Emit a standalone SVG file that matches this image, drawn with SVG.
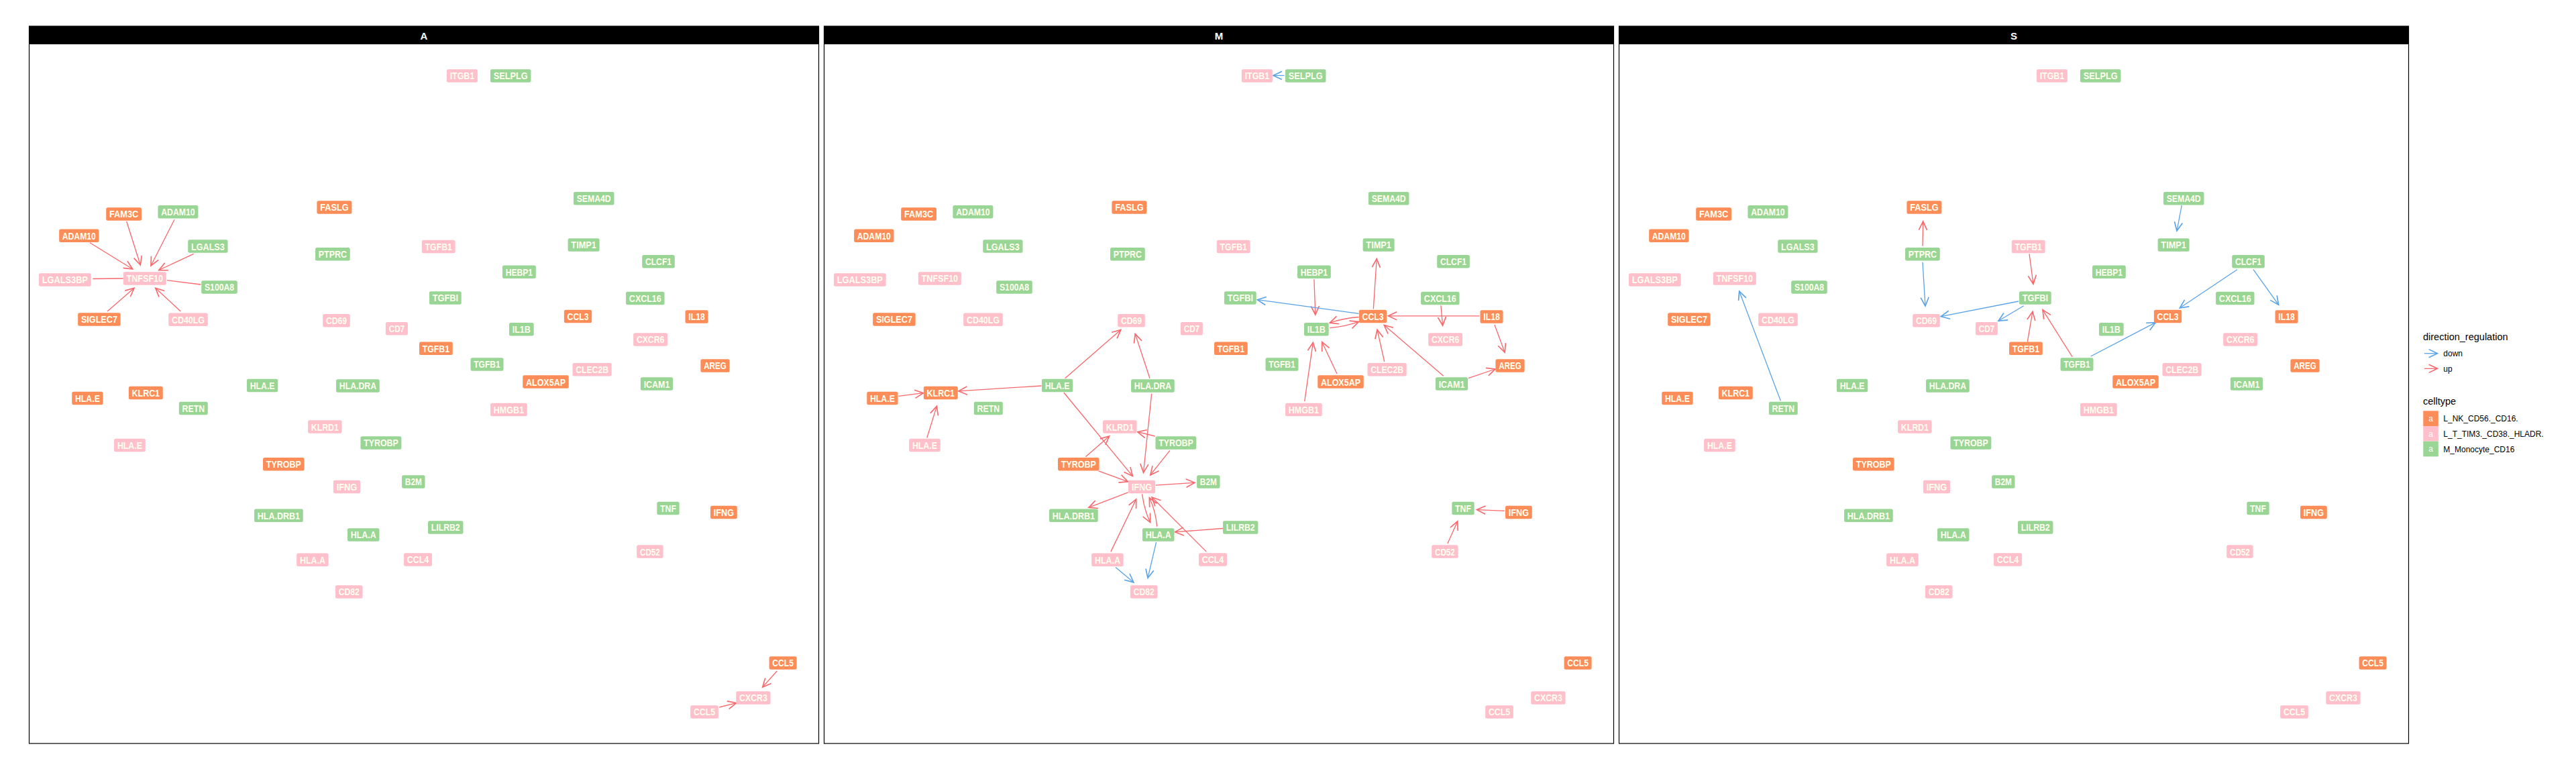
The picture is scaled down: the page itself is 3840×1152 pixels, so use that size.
<svg xmlns="http://www.w3.org/2000/svg" width="3840" height="1152" viewBox="0 0 3840 1152">
<style>
.bg{fill:#fff}
.frame{fill:none;stroke:#000;stroke-width:1.2}
.strip{fill:#000}
.stripT{font-family:"Liberation Sans Narrow","Liberation Sans",Arial,sans-serif;font-weight:bold;font-size:15px;fill:#fff;text-anchor:middle}
.n text{font-family:"Liberation Sans Narrow","Liberation Sans",Arial,sans-serif;font-weight:bold;font-size:15px;fill:#FFFFF0;text-anchor:middle}
.o rect{fill:#FC8D59}
.p rect{fill:#FFC0CB}
.g rect{fill:#99D594}
.u,.d,.l{fill:none;stroke-width:1.3}
.u{stroke:#F8676B;marker-end:url(#ah-up)}
.d{stroke:#5AA2E6;marker-end:url(#ah-down)}
.l{stroke:#F8676B}
.lgT{font-family:"Liberation Sans",Arial,sans-serif;font-size:14.5px;fill:#000}
.lgI{font-family:"Liberation Sans",Arial,sans-serif;font-size:12px;fill:#000}
.lgA{font-family:"Liberation Sans",Arial,sans-serif;font-size:12px;fill:#fff;text-anchor:middle}
</style>
<defs>
<marker id="ah-up" markerUnits="userSpaceOnUse" markerWidth="14" markerHeight="14" viewBox="0 0 12 12" refX="11.5" refY="6" orient="auto" overflow="visible"><path d="M0.5,0.8 L11.5,6 L0.5,11.2" fill="none" stroke="#F8676B" stroke-width="1.4"/></marker>
<marker id="ah-down" markerUnits="userSpaceOnUse" markerWidth="14" markerHeight="14" viewBox="0 0 12 12" refX="11.5" refY="6" orient="auto" overflow="visible"><path d="M0.5,0.8 L11.5,6 L0.5,11.2" fill="none" stroke="#5AA2E6" stroke-width="1.4"/></marker>
</defs>
<rect class="bg" x="0" y="0" width="3840" height="1152"/>

<g id="panels">
<rect class="strip" x="43.5" y="39" width="1177" height="27"/>
<rect class="frame" x="43.5" y="39" width="1177" height="1069"/>
<text class="stripT" x="632" y="59">A</text>
<rect class="strip" x="1228.5" y="39" width="1177" height="27"/>
<rect class="frame" x="1228.5" y="39" width="1177" height="1069"/>
<text class="stripT" x="1817" y="59">M</text>
<rect class="strip" x="2413.5" y="39" width="1177" height="27"/>
<rect class="frame" x="2413.5" y="39" width="1177" height="1069"/>
<text class="stripT" x="3002" y="59">S</text>
</g>

<g id="edges">
<g id="edges-A" transform="translate(43.5,0)">
<line class="u" x1="145.2" y1="330" x2="165.8" y2="395"/>
<line class="u" x1="216.5" y1="327.3" x2="181.5" y2="396"/>
<line class="u" x1="90.5" y1="361.7" x2="154.2" y2="401"/>
<line class="u" x1="245.2" y1="378.3" x2="193.2" y2="402.7"/>
<line class="l" x1="94.8" y1="415.5" x2="140" y2="415"/>
<line class="l" x1="205.5" y1="417.7" x2="255.8" y2="424"/>
<line class="u" x1="116.5" y1="464" x2="156.5" y2="429.3"/>
<line class="u" x1="225.8" y1="464" x2="188.2" y2="429.3"/>
<line class="u" x1="1114.8" y1="1000" x2="1093.2" y2="1024"/>
<line class="u" x1="1028.8" y1="1054" x2="1054.2" y2="1047.7"/>
</g>
<g id="edges-M" transform="translate(1228.5,0)">
<line class="d" x1="686" y1="112.5" x2="669.5" y2="112.5"/>
<line class="u" x1="730.4" y1="416.3" x2="732.3" y2="469"/>
<line class="d" x1="797" y1="467.3" x2="645.8" y2="446.7"/>
<line class="u" x1="818.8" y1="460.4" x2="823.7" y2="385.7"/>
<path class="u" d="M797,472.5 Q775,474 753.7,481.1"/>
<path class="u" d="M753.7,488.7 Q776,487 797,479.4"/>
<line class="u" x1="976.8" y1="470.8" x2="841" y2="470.8"/>
<line class="u" x1="919.4" y1="455.3" x2="922.1" y2="485.2"/>
<line class="u" x1="999.4" y1="483.9" x2="1014.7" y2="525.2"/>
<line class="u" x1="835.2" y1="539" x2="824.5" y2="491.4"/>
<line class="u" x1="923.2" y1="560.3" x2="834.8" y2="484.5"/>
<line class="u" x1="960.4" y1="563.7" x2="1000.5" y2="550"/>
<line class="u" x1="716.2" y1="598.2" x2="728.8" y2="510.4"/>
<line class="u" x1="764.5" y1="557" x2="742.2" y2="509.7"/>
<line class="u" x1="359.2" y1="563.7" x2="442.3" y2="491.4"/>
<line class="u" x1="485.5" y1="563.7" x2="463.7" y2="497.6"/>
<line class="u" x1="324" y1="575" x2="200.4" y2="582.9"/>
<line class="u" x1="110.9" y1="590.4" x2="148" y2="585.7"/>
<line class="u" x1="153.3" y1="652.5" x2="167.9" y2="605.4"/>
<line class="u" x1="357.3" y1="585" x2="459.9" y2="709.6"/>
<line class="u" x1="488.2" y1="586.8" x2="476" y2="704.3"/>
<line class="u" x1="493.2" y1="650" x2="467.2" y2="643.6"/>
<line class="u" x1="389.9" y1="680.7" x2="425.1" y2="650"/>
<line class="u" x1="515.4" y1="671.4" x2="486.3" y2="707.9"/>
<line class="u" x1="409" y1="701.8" x2="453" y2="717.9"/>
<line class="u" x1="494.3" y1="723.2" x2="552.5" y2="719.3"/>
<line class="u" x1="453" y1="733.9" x2="394.4" y2="756.4"/>
<path class="u" d="M474.1,736.4 Q477,760 486.3,778.6"/>
<path class="u" d="M496.2,784.6 Q494,760 484.8,741.8"/>
<line class="u" x1="427.4" y1="822.1" x2="465.2" y2="743.9"/>
<line class="u" x1="569.7" y1="822.1" x2="488.6" y2="741"/>
<line class="u" x1="594.6" y1="787.5" x2="523" y2="792.9"/>
<line class="d" x1="495.1" y1="807.9" x2="482.5" y2="861.4"/>
<line class="d" x1="434.6" y1="845.4" x2="461.4" y2="867.9"/>
<line class="u" x1="1014.3" y1="761.4" x2="973" y2="759.6"/>
<line class="u" x1="929.4" y1="810" x2="944.3" y2="776.8"/>
</g>
<g id="edges-S" transform="translate(2413.5,0)">
<line class="u" x1="452.5" y1="366.7" x2="453.2" y2="330"/>
<line class="d" x1="452.5" y1="390.7" x2="456.5" y2="456"/>
<line class="u" x1="611.5" y1="378.3" x2="617.5" y2="423.3"/>
<line class="d" x1="595.5" y1="449" x2="479.8" y2="471.7"/>
<line class="d" x1="603.2" y1="455.7" x2="565.5" y2="478.3"/>
<line class="u" x1="608.8" y1="509.3" x2="616.5" y2="464.3"/>
<line class="d" x1="240.8" y1="597.3" x2="179.2" y2="434"/>
<line class="u" x1="675.5" y1="531.7" x2="631.5" y2="461.7"/>
<line class="d" x1="703.2" y1="531" x2="799.8" y2="480.7"/>
<line class="d" x1="921.5" y1="401.7" x2="835.8" y2="459"/>
<line class="d" x1="945.5" y1="401.7" x2="983.2" y2="454.3"/>
<line class="d" x1="838.8" y1="306" x2="831.5" y2="344"/>
</g>
</g>

<g id="nodes-A" transform="translate(43.5,0)">
<g id="A-ITGB1" class="n p" transform="translate(645.4,113)"><rect x="-23" y="-9.75" width="46" height="19.5" rx="2.5"/><text y="5.4" textLength="36.5" lengthAdjust="spacingAndGlyphs">ITGB1</text></g>
<g id="A-SELPLG" class="n g" transform="translate(717.7,113)"><rect x="-30.25" y="-9.75" width="60.5" height="19.5" rx="2.5"/><text y="5.4" textLength="51" lengthAdjust="spacingAndGlyphs">SELPLG</text></g>
<g id="A-FAM3C" class="n o" transform="translate(141.1,319)"><rect x="-26.4" y="-9.75" width="52.8" height="19.5" rx="2.5"/><text y="5.4" textLength="43.3" lengthAdjust="spacingAndGlyphs">FAM3C</text></g>
<g id="A-ADAM10-g" class="n g" transform="translate(221.9,315.8)"><rect x="-30" y="-9.75" width="60" height="19.5" rx="2.5"/><text y="5.4" textLength="50.5" lengthAdjust="spacingAndGlyphs">ADAM10</text></g>
<g id="A-ADAM10-o" class="n o" transform="translate(74.3,351.3)"><rect x="-29.65" y="-9.75" width="59.3" height="19.5" rx="2.5"/><text y="5.4" textLength="50" lengthAdjust="spacingAndGlyphs">ADAM10</text></g>
<g id="A-LGALS3" class="n g" transform="translate(266.4,367.1)"><rect x="-29.65" y="-9.75" width="59.3" height="19.5" rx="2.5"/><text y="5.4" textLength="49.8" lengthAdjust="spacingAndGlyphs">LGALS3</text></g>
<g id="A-FASLG" class="n o" transform="translate(454.9,308.9)"><rect x="-26" y="-9.75" width="52" height="19.5" rx="2.5"/><text y="5.4" textLength="42.5" lengthAdjust="spacingAndGlyphs">FASLG</text></g>
<g id="A-PTPRC" class="n g" transform="translate(452.4,378.8)"><rect x="-25.85" y="-9.75" width="51.7" height="19.5" rx="2.5"/><text y="5.4" textLength="42.2" lengthAdjust="spacingAndGlyphs">PTPRC</text></g>
<g id="A-LGALS3BP" class="n p" transform="translate(53.3,416.9)"><rect x="-38.85" y="-9.75" width="77.7" height="19.5" rx="2.5"/><text y="5.4" textLength="68.2" lengthAdjust="spacingAndGlyphs">LGALS3BP</text></g>
<g id="A-TNFSF10" class="n p" transform="translate(172.3,415)"><rect x="-32" y="-9.75" width="64" height="19.5" rx="2.5"/><text y="5.4" textLength="54.5" lengthAdjust="spacingAndGlyphs">TNFSF10</text></g>
<g id="A-S100A8" class="n g" transform="translate(283.5,428)"><rect x="-26.8" y="-9.75" width="53.6" height="19.5" rx="2.5"/><text y="5.4" textLength="44.1" lengthAdjust="spacingAndGlyphs">S100A8</text></g>
<g id="A-SIGLEC7" class="n o" transform="translate(104.4,475.9)"><rect x="-31.75" y="-9.75" width="63.5" height="19.5" rx="2.5"/><text y="5.4" textLength="54" lengthAdjust="spacingAndGlyphs">SIGLEC7</text></g>
<g id="A-CD40LG" class="n p" transform="translate(237,476.3)"><rect x="-29.3" y="-9.75" width="58.6" height="19.5" rx="2.5"/><text y="5.4" textLength="49.1" lengthAdjust="spacingAndGlyphs">CD40LG</text></g>
<g id="A-CD69" class="n p" transform="translate(458,477.7)"><rect x="-20.3" y="-9.75" width="40.6" height="19.5" rx="2.5"/><text y="5.4" textLength="31.1" lengthAdjust="spacingAndGlyphs">CD69</text></g>
<g id="A-CD7" class="n p" transform="translate(547.9,489.7)"><rect x="-16.5" y="-9.75" width="33" height="19.5" rx="2.5"/><text y="5.4" textLength="23.5" lengthAdjust="spacingAndGlyphs">CD7</text></g>
<g id="A-SEMA4D" class="n g" transform="translate(841.7,295.7)"><rect x="-30.25" y="-9.75" width="60.5" height="19.5" rx="2.5"/><text y="5.4" textLength="51" lengthAdjust="spacingAndGlyphs">SEMA4D</text></g>
<g id="A-TGFB1-p" class="n p" transform="translate(610.2,367.6)"><rect x="-24.9" y="-9.75" width="49.8" height="19.5" rx="2.5"/><text y="5.4" textLength="40.3" lengthAdjust="spacingAndGlyphs">TGFB1</text></g>
<g id="A-TIMP1" class="n g" transform="translate(826.6,364.9)"><rect x="-23.5" y="-9.75" width="47" height="19.5" rx="2.5"/><text y="5.4" textLength="37.5" lengthAdjust="spacingAndGlyphs">TIMP1</text></g>
<g id="A-CLCF1" class="n g" transform="translate(938,389.7)"><rect x="-24.3" y="-9.75" width="48.6" height="19.5" rx="2.5"/><text y="5.4" textLength="39.1" lengthAdjust="spacingAndGlyphs">CLCF1</text></g>
<g id="A-HEBP1" class="n g" transform="translate(730.4,405.2)"><rect x="-24.9" y="-9.75" width="49.8" height="19.5" rx="2.5"/><text y="5.4" textLength="40.3" lengthAdjust="spacingAndGlyphs">HEBP1</text></g>
<g id="A-TGFBI" class="n g" transform="translate(620.3,443.9)"><rect x="-23.9" y="-9.75" width="47.8" height="19.5" rx="2.5"/><text y="5.4" textLength="38.3" lengthAdjust="spacingAndGlyphs">TGFBI</text></g>
<g id="A-CXCL16" class="n g" transform="translate(918.3,444.4)"><rect x="-28.7" y="-9.75" width="57.4" height="19.5" rx="2.5"/><text y="5.4" textLength="47.9" lengthAdjust="spacingAndGlyphs">CXCL16</text></g>
<g id="A-CCL3" class="n o" transform="translate(818,471.6)"><rect x="-20.65" y="-9.75" width="41.3" height="19.5" rx="2.5"/><text y="5.4" textLength="31.8" lengthAdjust="spacingAndGlyphs">CCL3</text></g>
<g id="A-IL18" class="n o" transform="translate(995,472)"><rect x="-17" y="-9.75" width="34" height="19.5" rx="2.5"/><text y="5.4" textLength="24.5" lengthAdjust="spacingAndGlyphs">IL18</text></g>
<g id="A-IL1B" class="n g" transform="translate(733.8,490.7)"><rect x="-18.35" y="-9.75" width="36.7" height="19.5" rx="2.5"/><text y="5.4" textLength="27.2" lengthAdjust="spacingAndGlyphs">IL1B</text></g>
<g id="A-CXCR6" class="n p" transform="translate(926.1,506)"><rect x="-25.45" y="-9.75" width="50.9" height="19.5" rx="2.5"/><text y="5.4" textLength="41.4" lengthAdjust="spacingAndGlyphs">CXCR6</text></g>
<g id="A-TGFB1-o" class="n o" transform="translate(606.4,519.3)"><rect x="-24.9" y="-9.75" width="49.8" height="19.5" rx="2.5"/><text y="5.4" textLength="40.3" lengthAdjust="spacingAndGlyphs">TGFB1</text></g>
<g id="A-TGFB1-g" class="n g" transform="translate(682.5,543)"><rect x="-24.5" y="-9.75" width="49" height="19.5" rx="2.5"/><text y="5.4" textLength="39.5" lengthAdjust="spacingAndGlyphs">TGFB1</text></g>
<g id="A-CLEC2B" class="n p" transform="translate(839.1,550.8)"><rect x="-29.1" y="-9.75" width="58.2" height="19.5" rx="2.5"/><text y="5.4" textLength="48.7" lengthAdjust="spacingAndGlyphs">CLEC2B</text></g>
<g id="A-AREG" class="n o" transform="translate(1022.5,545)"><rect x="-21.6" y="-9.75" width="43.2" height="19.5" rx="2.5"/><text y="5.4" textLength="33.7" lengthAdjust="spacingAndGlyphs">AREG</text></g>
<g id="A-ALOX5AP" class="n o" transform="translate(770,569.1)"><rect x="-34.25" y="-9.75" width="68.5" height="19.5" rx="2.5"/><text y="5.4" textLength="59" lengthAdjust="spacingAndGlyphs">ALOX5AP</text></g>
<g id="A-ICAM1" class="n g" transform="translate(935.5,572.1)"><rect x="-24.1" y="-9.75" width="48.2" height="19.5" rx="2.5"/><text y="5.4" textLength="38.7" lengthAdjust="spacingAndGlyphs">ICAM1</text></g>
<g id="A-HMGB1" class="n p" transform="translate(714.9,610.5)"><rect x="-27.35" y="-9.75" width="54.7" height="19.5" rx="2.5"/><text y="5.4" textLength="45.2" lengthAdjust="spacingAndGlyphs">HMGB1</text></g>
<g id="A-HLA-E-g" class="n g" transform="translate(347.6,574.5)"><rect x="-23.15" y="-9.75" width="46.3" height="19.5" rx="2.5"/><text y="5.4" textLength="36.8" lengthAdjust="spacingAndGlyphs">HLA.E</text></g>
<g id="A-HLA-DRA" class="n g" transform="translate(489.9,575)"><rect x="-32.35" y="-9.75" width="64.7" height="19.5" rx="2.5"/><text y="5.4" textLength="55.2" lengthAdjust="spacingAndGlyphs">HLA.DRA</text></g>
<g id="A-HLA-E-o" class="n o" transform="translate(86.9,593.4)"><rect x="-23.15" y="-9.75" width="46.3" height="19.5" rx="2.5"/><text y="5.4" textLength="36.8" lengthAdjust="spacingAndGlyphs">HLA.E</text></g>
<g id="A-KLRC1" class="n o" transform="translate(173.8,585.5)"><rect x="-25.45" y="-9.75" width="50.9" height="19.5" rx="2.5"/><text y="5.4" textLength="41.4" lengthAdjust="spacingAndGlyphs">KLRC1</text></g>
<g id="A-RETN" class="n g" transform="translate(244.8,608.4)"><rect x="-21.45" y="-9.75" width="42.9" height="19.5" rx="2.5"/><text y="5.4" textLength="33.4" lengthAdjust="spacingAndGlyphs">RETN</text></g>
<g id="A-KLRD1" class="n p" transform="translate(440.8,636.1)"><rect x="-25.25" y="-9.75" width="50.5" height="19.5" rx="2.5"/><text y="5.4" textLength="41" lengthAdjust="spacingAndGlyphs">KLRD1</text></g>
<g id="A-TYROBP-g" class="n g" transform="translate(524.4,660)"><rect x="-30.45" y="-9.75" width="60.9" height="19.5" rx="2.5"/><text y="5.4" textLength="51.4" lengthAdjust="spacingAndGlyphs">TYROBP</text></g>
<g id="A-HLA-E-p" class="n p" transform="translate(149.9,663.6)"><rect x="-23.35" y="-9.75" width="46.7" height="19.5" rx="2.5"/><text y="5.4" textLength="37" lengthAdjust="spacingAndGlyphs">HLA.E</text></g>
<g id="A-TYROBP-o" class="n o" transform="translate(379.3,691.8)"><rect x="-30.8" y="-9.75" width="61.6" height="19.5" rx="2.5"/><text y="5.4" textLength="52" lengthAdjust="spacingAndGlyphs">TYROBP</text></g>
<g id="A-IFNG-p" class="n p" transform="translate(473.5,725.5)"><rect x="-20.1" y="-9.75" width="40.2" height="19.5" rx="2.5"/><text y="5.4" textLength="30.7" lengthAdjust="spacingAndGlyphs">IFNG</text></g>
<g id="A-B2M" class="n g" transform="translate(572.8,718)"><rect x="-17.2" y="-9.75" width="34.4" height="19.5" rx="2.5"/><text y="5.4" textLength="24.9" lengthAdjust="spacingAndGlyphs">B2M</text></g>
<g id="A-HLA-DRB1" class="n g" transform="translate(371.9,768.2)"><rect x="-36.35" y="-9.75" width="72.7" height="19.5" rx="2.5"/><text y="5.4" textLength="63.2" lengthAdjust="spacingAndGlyphs">HLA.DRB1</text></g>
<g id="A-HLA-A-g" class="n g" transform="translate(498.2,797)"><rect x="-23.75" y="-9.75" width="47.5" height="19.5" rx="2.5"/><text y="5.4" textLength="38" lengthAdjust="spacingAndGlyphs">HLA.A</text></g>
<g id="A-HLA-A-p" class="n p" transform="translate(422.4,834.3)"><rect x="-23.75" y="-9.75" width="47.5" height="19.5" rx="2.5"/><text y="5.4" textLength="38" lengthAdjust="spacingAndGlyphs">HLA.A</text></g>
<g id="A-CCL4" class="n p" transform="translate(579.5,834)"><rect x="-21" y="-9.75" width="42" height="19.5" rx="2.5"/><text y="5.4" textLength="32.5" lengthAdjust="spacingAndGlyphs">CCL4</text></g>
<g id="A-CD82" class="n p" transform="translate(476.7,882)"><rect x="-20.3" y="-9.75" width="40.6" height="19.5" rx="2.5"/><text y="5.4" textLength="31.1" lengthAdjust="spacingAndGlyphs">CD82</text></g>
<g id="A-TNF" class="n g" transform="translate(952.5,757.5)"><rect x="-16.65" y="-9.75" width="33.3" height="19.5" rx="2.5"/><text y="5.4" textLength="23.8" lengthAdjust="spacingAndGlyphs">TNF</text></g>
<g id="A-IFNG-o" class="n o" transform="translate(1035.4,763.6)"><rect x="-19.9" y="-9.75" width="39.8" height="19.5" rx="2.5"/><text y="5.4" textLength="30.3" lengthAdjust="spacingAndGlyphs">IFNG</text></g>
<g id="A-LILRB2" class="n g" transform="translate(620.7,786)"><rect x="-26.2" y="-9.75" width="52.4" height="19.5" rx="2.5"/><text y="5.4" textLength="42.9" lengthAdjust="spacingAndGlyphs">LILRB2</text></g>
<g id="A-CD52" class="n p" transform="translate(925.4,822.1)"><rect x="-19.7" y="-9.75" width="39.4" height="19.5" rx="2.5"/><text y="5.4" textLength="29.9" lengthAdjust="spacingAndGlyphs">CD52</text></g>
<g id="A-CCL5-o" class="n o" transform="translate(1123.6,987.9)"><rect x="-20.5" y="-9.75" width="41" height="19.5" rx="2.5"/><text y="5.4" textLength="31.5" lengthAdjust="spacingAndGlyphs">CCL5</text></g>
<g id="A-CXCR3" class="n p" transform="translate(1079.4,1040)"><rect x="-25.65" y="-9.75" width="51.3" height="19.5" rx="2.5"/><text y="5.4" textLength="41.8" lengthAdjust="spacingAndGlyphs">CXCR3</text></g>
<g id="A-CCL5-p" class="n p" transform="translate(1006.5,1061)"><rect x="-20.85" y="-9.75" width="41.7" height="19.5" rx="2.5"/><text y="5.4" textLength="32.2" lengthAdjust="spacingAndGlyphs">CCL5</text></g>
</g>

<g id="nodes-M" transform="translate(1228.5,0)">
<g id="M-ITGB1" class="n p" transform="translate(645.4,113)"><rect x="-23" y="-9.75" width="46" height="19.5" rx="2.5"/><text y="5.4" textLength="36.5" lengthAdjust="spacingAndGlyphs">ITGB1</text></g>
<g id="M-SELPLG" class="n g" transform="translate(717.7,113)"><rect x="-30.25" y="-9.75" width="60.5" height="19.5" rx="2.5"/><text y="5.4" textLength="51" lengthAdjust="spacingAndGlyphs">SELPLG</text></g>
<g id="M-FAM3C" class="n o" transform="translate(141.1,319)"><rect x="-26.4" y="-9.75" width="52.8" height="19.5" rx="2.5"/><text y="5.4" textLength="43.3" lengthAdjust="spacingAndGlyphs">FAM3C</text></g>
<g id="M-ADAM10-g" class="n g" transform="translate(221.9,315.8)"><rect x="-30" y="-9.75" width="60" height="19.5" rx="2.5"/><text y="5.4" textLength="50.5" lengthAdjust="spacingAndGlyphs">ADAM10</text></g>
<g id="M-ADAM10-o" class="n o" transform="translate(74.3,351.3)"><rect x="-29.65" y="-9.75" width="59.3" height="19.5" rx="2.5"/><text y="5.4" textLength="50" lengthAdjust="spacingAndGlyphs">ADAM10</text></g>
<g id="M-LGALS3" class="n g" transform="translate(266.4,367.1)"><rect x="-29.65" y="-9.75" width="59.3" height="19.5" rx="2.5"/><text y="5.4" textLength="49.8" lengthAdjust="spacingAndGlyphs">LGALS3</text></g>
<g id="M-FASLG" class="n o" transform="translate(454.9,308.9)"><rect x="-26" y="-9.75" width="52" height="19.5" rx="2.5"/><text y="5.4" textLength="42.5" lengthAdjust="spacingAndGlyphs">FASLG</text></g>
<g id="M-PTPRC" class="n g" transform="translate(452.4,378.8)"><rect x="-25.85" y="-9.75" width="51.7" height="19.5" rx="2.5"/><text y="5.4" textLength="42.2" lengthAdjust="spacingAndGlyphs">PTPRC</text></g>
<g id="M-LGALS3BP" class="n p" transform="translate(53.3,416.9)"><rect x="-38.85" y="-9.75" width="77.7" height="19.5" rx="2.5"/><text y="5.4" textLength="68.2" lengthAdjust="spacingAndGlyphs">LGALS3BP</text></g>
<g id="M-TNFSF10" class="n p" transform="translate(172.3,415)"><rect x="-32" y="-9.75" width="64" height="19.5" rx="2.5"/><text y="5.4" textLength="54.5" lengthAdjust="spacingAndGlyphs">TNFSF10</text></g>
<g id="M-S100A8" class="n g" transform="translate(283.5,428)"><rect x="-26.8" y="-9.75" width="53.6" height="19.5" rx="2.5"/><text y="5.4" textLength="44.1" lengthAdjust="spacingAndGlyphs">S100A8</text></g>
<g id="M-SIGLEC7" class="n o" transform="translate(104.4,475.9)"><rect x="-31.75" y="-9.75" width="63.5" height="19.5" rx="2.5"/><text y="5.4" textLength="54" lengthAdjust="spacingAndGlyphs">SIGLEC7</text></g>
<g id="M-CD40LG" class="n p" transform="translate(237,476.3)"><rect x="-29.3" y="-9.75" width="58.6" height="19.5" rx="2.5"/><text y="5.4" textLength="49.1" lengthAdjust="spacingAndGlyphs">CD40LG</text></g>
<g id="M-CD69" class="n p" transform="translate(458,477.7)"><rect x="-20.3" y="-9.75" width="40.6" height="19.5" rx="2.5"/><text y="5.4" textLength="31.1" lengthAdjust="spacingAndGlyphs">CD69</text></g>
<g id="M-CD7" class="n p" transform="translate(547.9,489.7)"><rect x="-16.5" y="-9.75" width="33" height="19.5" rx="2.5"/><text y="5.4" textLength="23.5" lengthAdjust="spacingAndGlyphs">CD7</text></g>
<g id="M-SEMA4D" class="n g" transform="translate(841.7,295.7)"><rect x="-30.25" y="-9.75" width="60.5" height="19.5" rx="2.5"/><text y="5.4" textLength="51" lengthAdjust="spacingAndGlyphs">SEMA4D</text></g>
<g id="M-TGFB1-p" class="n p" transform="translate(610.2,367.6)"><rect x="-24.9" y="-9.75" width="49.8" height="19.5" rx="2.5"/><text y="5.4" textLength="40.3" lengthAdjust="spacingAndGlyphs">TGFB1</text></g>
<g id="M-TIMP1" class="n g" transform="translate(826.6,364.9)"><rect x="-23.5" y="-9.75" width="47" height="19.5" rx="2.5"/><text y="5.4" textLength="37.5" lengthAdjust="spacingAndGlyphs">TIMP1</text></g>
<g id="M-CLCF1" class="n g" transform="translate(938,389.7)"><rect x="-24.3" y="-9.75" width="48.6" height="19.5" rx="2.5"/><text y="5.4" textLength="39.1" lengthAdjust="spacingAndGlyphs">CLCF1</text></g>
<g id="M-HEBP1" class="n g" transform="translate(730.4,405.2)"><rect x="-24.9" y="-9.75" width="49.8" height="19.5" rx="2.5"/><text y="5.4" textLength="40.3" lengthAdjust="spacingAndGlyphs">HEBP1</text></g>
<g id="M-TGFBI" class="n g" transform="translate(620.3,443.9)"><rect x="-23.9" y="-9.75" width="47.8" height="19.5" rx="2.5"/><text y="5.4" textLength="38.3" lengthAdjust="spacingAndGlyphs">TGFBI</text></g>
<g id="M-CXCL16" class="n g" transform="translate(918.3,444.4)"><rect x="-28.7" y="-9.75" width="57.4" height="19.5" rx="2.5"/><text y="5.4" textLength="47.9" lengthAdjust="spacingAndGlyphs">CXCL16</text></g>
<g id="M-CCL3" class="n o" transform="translate(818,471.6)"><rect x="-20.65" y="-9.75" width="41.3" height="19.5" rx="2.5"/><text y="5.4" textLength="31.8" lengthAdjust="spacingAndGlyphs">CCL3</text></g>
<g id="M-IL18" class="n o" transform="translate(995,472)"><rect x="-17" y="-9.75" width="34" height="19.5" rx="2.5"/><text y="5.4" textLength="24.5" lengthAdjust="spacingAndGlyphs">IL18</text></g>
<g id="M-IL1B" class="n g" transform="translate(733.8,490.7)"><rect x="-18.35" y="-9.75" width="36.7" height="19.5" rx="2.5"/><text y="5.4" textLength="27.2" lengthAdjust="spacingAndGlyphs">IL1B</text></g>
<g id="M-CXCR6" class="n p" transform="translate(926.1,506)"><rect x="-25.45" y="-9.75" width="50.9" height="19.5" rx="2.5"/><text y="5.4" textLength="41.4" lengthAdjust="spacingAndGlyphs">CXCR6</text></g>
<g id="M-TGFB1-o" class="n o" transform="translate(606.4,519.3)"><rect x="-24.9" y="-9.75" width="49.8" height="19.5" rx="2.5"/><text y="5.4" textLength="40.3" lengthAdjust="spacingAndGlyphs">TGFB1</text></g>
<g id="M-TGFB1-g" class="n g" transform="translate(682.5,543)"><rect x="-24.5" y="-9.75" width="49" height="19.5" rx="2.5"/><text y="5.4" textLength="39.5" lengthAdjust="spacingAndGlyphs">TGFB1</text></g>
<g id="M-CLEC2B" class="n p" transform="translate(839.1,550.8)"><rect x="-29.1" y="-9.75" width="58.2" height="19.5" rx="2.5"/><text y="5.4" textLength="48.7" lengthAdjust="spacingAndGlyphs">CLEC2B</text></g>
<g id="M-AREG" class="n o" transform="translate(1022.5,545)"><rect x="-21.6" y="-9.75" width="43.2" height="19.5" rx="2.5"/><text y="5.4" textLength="33.7" lengthAdjust="spacingAndGlyphs">AREG</text></g>
<g id="M-ALOX5AP" class="n o" transform="translate(770,569.1)"><rect x="-34.25" y="-9.75" width="68.5" height="19.5" rx="2.5"/><text y="5.4" textLength="59" lengthAdjust="spacingAndGlyphs">ALOX5AP</text></g>
<g id="M-ICAM1" class="n g" transform="translate(935.5,572.1)"><rect x="-24.1" y="-9.75" width="48.2" height="19.5" rx="2.5"/><text y="5.4" textLength="38.7" lengthAdjust="spacingAndGlyphs">ICAM1</text></g>
<g id="M-HMGB1" class="n p" transform="translate(714.9,610.5)"><rect x="-27.35" y="-9.75" width="54.7" height="19.5" rx="2.5"/><text y="5.4" textLength="45.2" lengthAdjust="spacingAndGlyphs">HMGB1</text></g>
<g id="M-HLA-E-g" class="n g" transform="translate(347.6,574.5)"><rect x="-23.15" y="-9.75" width="46.3" height="19.5" rx="2.5"/><text y="5.4" textLength="36.8" lengthAdjust="spacingAndGlyphs">HLA.E</text></g>
<g id="M-HLA-DRA" class="n g" transform="translate(489.9,575)"><rect x="-32.35" y="-9.75" width="64.7" height="19.5" rx="2.5"/><text y="5.4" textLength="55.2" lengthAdjust="spacingAndGlyphs">HLA.DRA</text></g>
<g id="M-HLA-E-o" class="n o" transform="translate(86.9,593.4)"><rect x="-23.15" y="-9.75" width="46.3" height="19.5" rx="2.5"/><text y="5.4" textLength="36.8" lengthAdjust="spacingAndGlyphs">HLA.E</text></g>
<g id="M-KLRC1" class="n o" transform="translate(173.8,585.5)"><rect x="-25.45" y="-9.75" width="50.9" height="19.5" rx="2.5"/><text y="5.4" textLength="41.4" lengthAdjust="spacingAndGlyphs">KLRC1</text></g>
<g id="M-RETN" class="n g" transform="translate(244.8,608.4)"><rect x="-21.45" y="-9.75" width="42.9" height="19.5" rx="2.5"/><text y="5.4" textLength="33.4" lengthAdjust="spacingAndGlyphs">RETN</text></g>
<g id="M-KLRD1" class="n p" transform="translate(440.8,636.1)"><rect x="-25.25" y="-9.75" width="50.5" height="19.5" rx="2.5"/><text y="5.4" textLength="41" lengthAdjust="spacingAndGlyphs">KLRD1</text></g>
<g id="M-TYROBP-g" class="n g" transform="translate(524.4,660)"><rect x="-30.45" y="-9.75" width="60.9" height="19.5" rx="2.5"/><text y="5.4" textLength="51.4" lengthAdjust="spacingAndGlyphs">TYROBP</text></g>
<g id="M-HLA-E-p" class="n p" transform="translate(149.9,663.6)"><rect x="-23.35" y="-9.75" width="46.7" height="19.5" rx="2.5"/><text y="5.4" textLength="37" lengthAdjust="spacingAndGlyphs">HLA.E</text></g>
<g id="M-TYROBP-o" class="n o" transform="translate(379.3,691.8)"><rect x="-30.8" y="-9.75" width="61.6" height="19.5" rx="2.5"/><text y="5.4" textLength="52" lengthAdjust="spacingAndGlyphs">TYROBP</text></g>
<g id="M-IFNG-p" class="n p" transform="translate(473.5,725.5)"><rect x="-20.1" y="-9.75" width="40.2" height="19.5" rx="2.5"/><text y="5.4" textLength="30.7" lengthAdjust="spacingAndGlyphs">IFNG</text></g>
<g id="M-B2M" class="n g" transform="translate(572.8,718)"><rect x="-17.2" y="-9.75" width="34.4" height="19.5" rx="2.5"/><text y="5.4" textLength="24.9" lengthAdjust="spacingAndGlyphs">B2M</text></g>
<g id="M-HLA-DRB1" class="n g" transform="translate(371.9,768.2)"><rect x="-36.35" y="-9.75" width="72.7" height="19.5" rx="2.5"/><text y="5.4" textLength="63.2" lengthAdjust="spacingAndGlyphs">HLA.DRB1</text></g>
<g id="M-HLA-A-g" class="n g" transform="translate(498.2,797)"><rect x="-23.75" y="-9.75" width="47.5" height="19.5" rx="2.5"/><text y="5.4" textLength="38" lengthAdjust="spacingAndGlyphs">HLA.A</text></g>
<g id="M-HLA-A-p" class="n p" transform="translate(422.4,834.3)"><rect x="-23.75" y="-9.75" width="47.5" height="19.5" rx="2.5"/><text y="5.4" textLength="38" lengthAdjust="spacingAndGlyphs">HLA.A</text></g>
<g id="M-CCL4" class="n p" transform="translate(579.5,834)"><rect x="-21" y="-9.75" width="42" height="19.5" rx="2.5"/><text y="5.4" textLength="32.5" lengthAdjust="spacingAndGlyphs">CCL4</text></g>
<g id="M-CD82" class="n p" transform="translate(476.7,882)"><rect x="-20.3" y="-9.75" width="40.6" height="19.5" rx="2.5"/><text y="5.4" textLength="31.1" lengthAdjust="spacingAndGlyphs">CD82</text></g>
<g id="M-TNF" class="n g" transform="translate(952.5,757.5)"><rect x="-16.65" y="-9.75" width="33.3" height="19.5" rx="2.5"/><text y="5.4" textLength="23.8" lengthAdjust="spacingAndGlyphs">TNF</text></g>
<g id="M-IFNG-o" class="n o" transform="translate(1035.4,763.6)"><rect x="-19.9" y="-9.75" width="39.8" height="19.5" rx="2.5"/><text y="5.4" textLength="30.3" lengthAdjust="spacingAndGlyphs">IFNG</text></g>
<g id="M-LILRB2" class="n g" transform="translate(620.7,786)"><rect x="-26.2" y="-9.75" width="52.4" height="19.5" rx="2.5"/><text y="5.4" textLength="42.9" lengthAdjust="spacingAndGlyphs">LILRB2</text></g>
<g id="M-CD52" class="n p" transform="translate(925.4,822.1)"><rect x="-19.7" y="-9.75" width="39.4" height="19.5" rx="2.5"/><text y="5.4" textLength="29.9" lengthAdjust="spacingAndGlyphs">CD52</text></g>
<g id="M-CCL5-o" class="n o" transform="translate(1123.6,987.9)"><rect x="-20.5" y="-9.75" width="41" height="19.5" rx="2.5"/><text y="5.4" textLength="31.5" lengthAdjust="spacingAndGlyphs">CCL5</text></g>
<g id="M-CXCR3" class="n p" transform="translate(1079.4,1040)"><rect x="-25.65" y="-9.75" width="51.3" height="19.5" rx="2.5"/><text y="5.4" textLength="41.8" lengthAdjust="spacingAndGlyphs">CXCR3</text></g>
<g id="M-CCL5-p" class="n p" transform="translate(1006.5,1061)"><rect x="-20.85" y="-9.75" width="41.7" height="19.5" rx="2.5"/><text y="5.4" textLength="32.2" lengthAdjust="spacingAndGlyphs">CCL5</text></g>
</g>

<g id="nodes-S" transform="translate(2413.5,0)">
<g id="S-ITGB1" class="n p" transform="translate(645.4,113)"><rect x="-23" y="-9.75" width="46" height="19.5" rx="2.5"/><text y="5.4" textLength="36.5" lengthAdjust="spacingAndGlyphs">ITGB1</text></g>
<g id="S-SELPLG" class="n g" transform="translate(717.7,113)"><rect x="-30.25" y="-9.75" width="60.5" height="19.5" rx="2.5"/><text y="5.4" textLength="51" lengthAdjust="spacingAndGlyphs">SELPLG</text></g>
<g id="S-FAM3C" class="n o" transform="translate(141.1,319)"><rect x="-26.4" y="-9.75" width="52.8" height="19.5" rx="2.5"/><text y="5.4" textLength="43.3" lengthAdjust="spacingAndGlyphs">FAM3C</text></g>
<g id="S-ADAM10-g" class="n g" transform="translate(221.9,315.8)"><rect x="-30" y="-9.75" width="60" height="19.5" rx="2.5"/><text y="5.4" textLength="50.5" lengthAdjust="spacingAndGlyphs">ADAM10</text></g>
<g id="S-ADAM10-o" class="n o" transform="translate(74.3,351.3)"><rect x="-29.65" y="-9.75" width="59.3" height="19.5" rx="2.5"/><text y="5.4" textLength="50" lengthAdjust="spacingAndGlyphs">ADAM10</text></g>
<g id="S-LGALS3" class="n g" transform="translate(266.4,367.1)"><rect x="-29.65" y="-9.75" width="59.3" height="19.5" rx="2.5"/><text y="5.4" textLength="49.8" lengthAdjust="spacingAndGlyphs">LGALS3</text></g>
<g id="S-FASLG" class="n o" transform="translate(454.9,308.9)"><rect x="-26" y="-9.75" width="52" height="19.5" rx="2.5"/><text y="5.4" textLength="42.5" lengthAdjust="spacingAndGlyphs">FASLG</text></g>
<g id="S-PTPRC" class="n g" transform="translate(452.4,378.8)"><rect x="-25.85" y="-9.75" width="51.7" height="19.5" rx="2.5"/><text y="5.4" textLength="42.2" lengthAdjust="spacingAndGlyphs">PTPRC</text></g>
<g id="S-LGALS3BP" class="n p" transform="translate(53.3,416.9)"><rect x="-38.85" y="-9.75" width="77.7" height="19.5" rx="2.5"/><text y="5.4" textLength="68.2" lengthAdjust="spacingAndGlyphs">LGALS3BP</text></g>
<g id="S-TNFSF10" class="n p" transform="translate(172.3,415)"><rect x="-32" y="-9.75" width="64" height="19.5" rx="2.5"/><text y="5.4" textLength="54.5" lengthAdjust="spacingAndGlyphs">TNFSF10</text></g>
<g id="S-S100A8" class="n g" transform="translate(283.5,428)"><rect x="-26.8" y="-9.75" width="53.6" height="19.5" rx="2.5"/><text y="5.4" textLength="44.1" lengthAdjust="spacingAndGlyphs">S100A8</text></g>
<g id="S-SIGLEC7" class="n o" transform="translate(104.4,475.9)"><rect x="-31.75" y="-9.75" width="63.5" height="19.5" rx="2.5"/><text y="5.4" textLength="54" lengthAdjust="spacingAndGlyphs">SIGLEC7</text></g>
<g id="S-CD40LG" class="n p" transform="translate(237,476.3)"><rect x="-29.3" y="-9.75" width="58.6" height="19.5" rx="2.5"/><text y="5.4" textLength="49.1" lengthAdjust="spacingAndGlyphs">CD40LG</text></g>
<g id="S-CD69" class="n p" transform="translate(458,477.7)"><rect x="-20.3" y="-9.75" width="40.6" height="19.5" rx="2.5"/><text y="5.4" textLength="31.1" lengthAdjust="spacingAndGlyphs">CD69</text></g>
<g id="S-CD7" class="n p" transform="translate(547.9,489.7)"><rect x="-16.5" y="-9.75" width="33" height="19.5" rx="2.5"/><text y="5.4" textLength="23.5" lengthAdjust="spacingAndGlyphs">CD7</text></g>
<g id="S-SEMA4D" class="n g" transform="translate(841.7,295.7)"><rect x="-30.25" y="-9.75" width="60.5" height="19.5" rx="2.5"/><text y="5.4" textLength="51" lengthAdjust="spacingAndGlyphs">SEMA4D</text></g>
<g id="S-TGFB1-p" class="n p" transform="translate(610.2,367.6)"><rect x="-24.9" y="-9.75" width="49.8" height="19.5" rx="2.5"/><text y="5.4" textLength="40.3" lengthAdjust="spacingAndGlyphs">TGFB1</text></g>
<g id="S-TIMP1" class="n g" transform="translate(826.6,364.9)"><rect x="-23.5" y="-9.75" width="47" height="19.5" rx="2.5"/><text y="5.4" textLength="37.5" lengthAdjust="spacingAndGlyphs">TIMP1</text></g>
<g id="S-CLCF1" class="n g" transform="translate(938,389.7)"><rect x="-24.3" y="-9.75" width="48.6" height="19.5" rx="2.5"/><text y="5.4" textLength="39.1" lengthAdjust="spacingAndGlyphs">CLCF1</text></g>
<g id="S-HEBP1" class="n g" transform="translate(730.4,405.2)"><rect x="-24.9" y="-9.75" width="49.8" height="19.5" rx="2.5"/><text y="5.4" textLength="40.3" lengthAdjust="spacingAndGlyphs">HEBP1</text></g>
<g id="S-TGFBI" class="n g" transform="translate(620.3,443.9)"><rect x="-23.9" y="-9.75" width="47.8" height="19.5" rx="2.5"/><text y="5.4" textLength="38.3" lengthAdjust="spacingAndGlyphs">TGFBI</text></g>
<g id="S-CXCL16" class="n g" transform="translate(918.3,444.4)"><rect x="-28.7" y="-9.75" width="57.4" height="19.5" rx="2.5"/><text y="5.4" textLength="47.9" lengthAdjust="spacingAndGlyphs">CXCL16</text></g>
<g id="S-CCL3" class="n o" transform="translate(818,471.6)"><rect x="-20.65" y="-9.75" width="41.3" height="19.5" rx="2.5"/><text y="5.4" textLength="31.8" lengthAdjust="spacingAndGlyphs">CCL3</text></g>
<g id="S-IL18" class="n o" transform="translate(995,472)"><rect x="-17" y="-9.75" width="34" height="19.5" rx="2.5"/><text y="5.4" textLength="24.5" lengthAdjust="spacingAndGlyphs">IL18</text></g>
<g id="S-IL1B" class="n g" transform="translate(733.8,490.7)"><rect x="-18.35" y="-9.75" width="36.7" height="19.5" rx="2.5"/><text y="5.4" textLength="27.2" lengthAdjust="spacingAndGlyphs">IL1B</text></g>
<g id="S-CXCR6" class="n p" transform="translate(926.1,506)"><rect x="-25.45" y="-9.75" width="50.9" height="19.5" rx="2.5"/><text y="5.4" textLength="41.4" lengthAdjust="spacingAndGlyphs">CXCR6</text></g>
<g id="S-TGFB1-o" class="n o" transform="translate(606.4,519.3)"><rect x="-24.9" y="-9.75" width="49.8" height="19.5" rx="2.5"/><text y="5.4" textLength="40.3" lengthAdjust="spacingAndGlyphs">TGFB1</text></g>
<g id="S-TGFB1-g" class="n g" transform="translate(682.5,543)"><rect x="-24.5" y="-9.75" width="49" height="19.5" rx="2.5"/><text y="5.4" textLength="39.5" lengthAdjust="spacingAndGlyphs">TGFB1</text></g>
<g id="S-CLEC2B" class="n p" transform="translate(839.1,550.8)"><rect x="-29.1" y="-9.75" width="58.2" height="19.5" rx="2.5"/><text y="5.4" textLength="48.7" lengthAdjust="spacingAndGlyphs">CLEC2B</text></g>
<g id="S-AREG" class="n o" transform="translate(1022.5,545)"><rect x="-21.6" y="-9.75" width="43.2" height="19.5" rx="2.5"/><text y="5.4" textLength="33.7" lengthAdjust="spacingAndGlyphs">AREG</text></g>
<g id="S-ALOX5AP" class="n o" transform="translate(770,569.1)"><rect x="-34.25" y="-9.75" width="68.5" height="19.5" rx="2.5"/><text y="5.4" textLength="59" lengthAdjust="spacingAndGlyphs">ALOX5AP</text></g>
<g id="S-ICAM1" class="n g" transform="translate(935.5,572.1)"><rect x="-24.1" y="-9.75" width="48.2" height="19.5" rx="2.5"/><text y="5.4" textLength="38.7" lengthAdjust="spacingAndGlyphs">ICAM1</text></g>
<g id="S-HMGB1" class="n p" transform="translate(714.9,610.5)"><rect x="-27.35" y="-9.75" width="54.7" height="19.5" rx="2.5"/><text y="5.4" textLength="45.2" lengthAdjust="spacingAndGlyphs">HMGB1</text></g>
<g id="S-HLA-E-g" class="n g" transform="translate(347.6,574.5)"><rect x="-23.15" y="-9.75" width="46.3" height="19.5" rx="2.5"/><text y="5.4" textLength="36.8" lengthAdjust="spacingAndGlyphs">HLA.E</text></g>
<g id="S-HLA-DRA" class="n g" transform="translate(489.9,575)"><rect x="-32.35" y="-9.75" width="64.7" height="19.5" rx="2.5"/><text y="5.4" textLength="55.2" lengthAdjust="spacingAndGlyphs">HLA.DRA</text></g>
<g id="S-HLA-E-o" class="n o" transform="translate(86.9,593.4)"><rect x="-23.15" y="-9.75" width="46.3" height="19.5" rx="2.5"/><text y="5.4" textLength="36.8" lengthAdjust="spacingAndGlyphs">HLA.E</text></g>
<g id="S-KLRC1" class="n o" transform="translate(173.8,585.5)"><rect x="-25.45" y="-9.75" width="50.9" height="19.5" rx="2.5"/><text y="5.4" textLength="41.4" lengthAdjust="spacingAndGlyphs">KLRC1</text></g>
<g id="S-RETN" class="n g" transform="translate(244.8,608.4)"><rect x="-21.45" y="-9.75" width="42.9" height="19.5" rx="2.5"/><text y="5.4" textLength="33.4" lengthAdjust="spacingAndGlyphs">RETN</text></g>
<g id="S-KLRD1" class="n p" transform="translate(440.8,636.1)"><rect x="-25.25" y="-9.75" width="50.5" height="19.5" rx="2.5"/><text y="5.4" textLength="41" lengthAdjust="spacingAndGlyphs">KLRD1</text></g>
<g id="S-TYROBP-g" class="n g" transform="translate(524.4,660)"><rect x="-30.45" y="-9.75" width="60.9" height="19.5" rx="2.5"/><text y="5.4" textLength="51.4" lengthAdjust="spacingAndGlyphs">TYROBP</text></g>
<g id="S-HLA-E-p" class="n p" transform="translate(149.9,663.6)"><rect x="-23.35" y="-9.75" width="46.7" height="19.5" rx="2.5"/><text y="5.4" textLength="37" lengthAdjust="spacingAndGlyphs">HLA.E</text></g>
<g id="S-TYROBP-o" class="n o" transform="translate(379.3,691.8)"><rect x="-30.8" y="-9.75" width="61.6" height="19.5" rx="2.5"/><text y="5.4" textLength="52" lengthAdjust="spacingAndGlyphs">TYROBP</text></g>
<g id="S-IFNG-p" class="n p" transform="translate(473.5,725.5)"><rect x="-20.1" y="-9.75" width="40.2" height="19.5" rx="2.5"/><text y="5.4" textLength="30.7" lengthAdjust="spacingAndGlyphs">IFNG</text></g>
<g id="S-B2M" class="n g" transform="translate(572.8,718)"><rect x="-17.2" y="-9.75" width="34.4" height="19.5" rx="2.5"/><text y="5.4" textLength="24.9" lengthAdjust="spacingAndGlyphs">B2M</text></g>
<g id="S-HLA-DRB1" class="n g" transform="translate(371.9,768.2)"><rect x="-36.35" y="-9.75" width="72.7" height="19.5" rx="2.5"/><text y="5.4" textLength="63.2" lengthAdjust="spacingAndGlyphs">HLA.DRB1</text></g>
<g id="S-HLA-A-g" class="n g" transform="translate(498.2,797)"><rect x="-23.75" y="-9.75" width="47.5" height="19.5" rx="2.5"/><text y="5.4" textLength="38" lengthAdjust="spacingAndGlyphs">HLA.A</text></g>
<g id="S-HLA-A-p" class="n p" transform="translate(422.4,834.3)"><rect x="-23.75" y="-9.75" width="47.5" height="19.5" rx="2.5"/><text y="5.4" textLength="38" lengthAdjust="spacingAndGlyphs">HLA.A</text></g>
<g id="S-CCL4" class="n p" transform="translate(579.5,834)"><rect x="-21" y="-9.75" width="42" height="19.5" rx="2.5"/><text y="5.4" textLength="32.5" lengthAdjust="spacingAndGlyphs">CCL4</text></g>
<g id="S-CD82" class="n p" transform="translate(476.7,882)"><rect x="-20.3" y="-9.75" width="40.6" height="19.5" rx="2.5"/><text y="5.4" textLength="31.1" lengthAdjust="spacingAndGlyphs">CD82</text></g>
<g id="S-TNF" class="n g" transform="translate(952.5,757.5)"><rect x="-16.65" y="-9.75" width="33.3" height="19.5" rx="2.5"/><text y="5.4" textLength="23.8" lengthAdjust="spacingAndGlyphs">TNF</text></g>
<g id="S-IFNG-o" class="n o" transform="translate(1035.4,763.6)"><rect x="-19.9" y="-9.75" width="39.8" height="19.5" rx="2.5"/><text y="5.4" textLength="30.3" lengthAdjust="spacingAndGlyphs">IFNG</text></g>
<g id="S-LILRB2" class="n g" transform="translate(620.7,786)"><rect x="-26.2" y="-9.75" width="52.4" height="19.5" rx="2.5"/><text y="5.4" textLength="42.9" lengthAdjust="spacingAndGlyphs">LILRB2</text></g>
<g id="S-CD52" class="n p" transform="translate(925.4,822.1)"><rect x="-19.7" y="-9.75" width="39.4" height="19.5" rx="2.5"/><text y="5.4" textLength="29.9" lengthAdjust="spacingAndGlyphs">CD52</text></g>
<g id="S-CCL5-o" class="n o" transform="translate(1123.6,987.9)"><rect x="-20.5" y="-9.75" width="41" height="19.5" rx="2.5"/><text y="5.4" textLength="31.5" lengthAdjust="spacingAndGlyphs">CCL5</text></g>
<g id="S-CXCR3" class="n p" transform="translate(1079.4,1040)"><rect x="-25.65" y="-9.75" width="51.3" height="19.5" rx="2.5"/><text y="5.4" textLength="41.8" lengthAdjust="spacingAndGlyphs">CXCR3</text></g>
<g id="S-CCL5-p" class="n p" transform="translate(1006.5,1061)"><rect x="-20.85" y="-9.75" width="41.7" height="19.5" rx="2.5"/><text y="5.4" textLength="32.2" lengthAdjust="spacingAndGlyphs">CCL5</text></g>
</g>

<g id="legend">
<text class="lgT" x="3612" y="506.5">direction_regulation</text>
<line class="d" x1="3614" y1="526.7" x2="3633.5" y2="526.7"/>
<text class="lgI" x="3642.3" y="531.3">down</text>
<line class="u" x1="3614" y1="549.3" x2="3633.5" y2="549.3"/>
<text class="lgI" x="3642.3" y="553.9">up</text>
<text class="lgT" x="3612" y="603.3">celltype</text>
<rect x="3612.3" y="612.3" width="22.5" height="22.7" fill="#FC8D59"/>
<text class="lgA" x="3623.5" y="627.8">a</text>
<rect x="3612.3" y="635" width="22.5" height="22.7" fill="#FFC0CB"/>
<text class="lgA" x="3623.5" y="650.5">a</text>
<rect x="3612.3" y="657.7" width="22.5" height="22.7" fill="#99D594"/>
<text class="lgA" x="3623.5" y="673.2">a</text>
<text class="lgI" x="3642.3" y="628.2">L_NK_CD56._CD16.</text>
<text class="lgI" x="3642.3" y="650.9">L_T_TIM3._CD38._HLADR.</text>
<text class="lgI" x="3642.3" y="673.6">M_Monocyte_CD16</text>
</g>
</svg>
